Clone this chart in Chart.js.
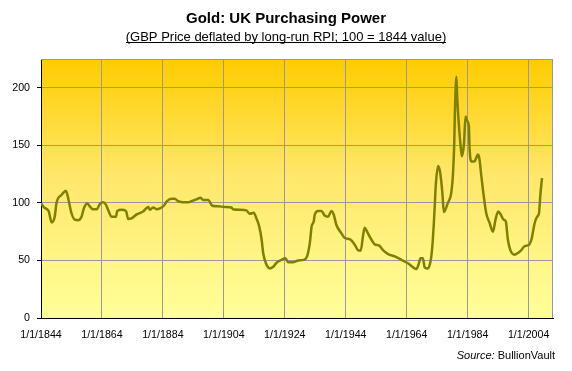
<!DOCTYPE html>
<html>
<head>
<meta charset="utf-8">
<script src="https://cdn.jsdelivr.net/npm/chart.js@4.4.1/dist/chart.umd.min.js"></script>
<style>
  body { margin: 0; background: #fff; }
</style>
</head>
<body>
<canvas id="chart" width="572" height="371"></canvas>
<script>
// values (year as decimal, index 100 = 1844)
const years = [
  1844.0, 1845.0, 1846.5, 1847.5, 1848.5, 1849.1, 1850.8, 1852.2, 1853.0, 1854.0,
  1855.1, 1856.2, 1857.3, 1858.1, 1859.2, 1860.0, 1861.0, 1862.3, 1863.3, 1864.4,
  1865.3, 1866.0, 1867.2, 1868.6, 1869.0, 1870.5, 1871.9, 1872.6, 1873.7, 1875.4,
  1877.5, 1879.2, 1879.7, 1880.8, 1881.9, 1883.2, 1884.3, 1885.2, 1886.8, 1887.9,
  1889.0, 1890.7, 1892.3, 1893.4, 1895.0, 1896.4, 1897.2, 1898.9, 1900.2, 1902.1,
  1904.3, 1906.5, 1907.0, 1909.2, 1911.4, 1912.5, 1913.8, 1914.7, 1915.6, 1916.4,
  1916.9, 1917.8, 1919.1, 1920.2, 1921.3, 1922.9, 1924.2, 1925.1, 1926.7, 1928.4,
  1930.2, 1931.3, 1932.2, 1932.8, 1933.5, 1933.8, 1934.9, 1936.0, 1937.1, 1938.2,
  1939.3, 1940.1, 1940.9, 1942.6, 1943.7, 1945.3, 1947.0, 1948.0, 1948.9, 1949.7,
  1950.2, 1951.0, 1952.1, 1953.5, 1954.9, 1956.2, 1957.9, 1960.1, 1962.3, 1964.4,
  1966.1, 1967.2, 1968.0, 1968.5, 1969.3, 1969.9, 1970.9, 1971.8, 1972.4, 1972.9,
  1973.3, 1973.5, 1974.3, 1975.0, 1975.7, 1976.2, 1977.5, 1978.6, 1979.2, 1979.6,
  1979.8, 1980.3, 1980.6, 1981.0, 1981.6, 1982.1, 1982.8, 1983.3, 1983.9, 1984.4,
  1984.6, 1985.2, 1986.2, 1987.4, 1987.9, 1988.5, 1989.3, 1990.1, 1991.2, 1992.3,
  1993.1, 1994.0, 1994.7, 1995.8, 1996.5, 1997.2, 1998.0, 1999.4, 2000.5, 2001.6,
  2002.7, 2004.1, 2004.9, 2006.0, 2006.8, 2007.4, 2007.9, 2008.4
];
const purchasingPower = [
  100, 96, 93, 83, 88, 100, 107, 110.5, 103, 91,
  85.5, 85, 88, 95.5, 99.5, 97, 94.5, 94.5, 99, 100.5,
  98.5, 94, 88, 88, 93, 94, 93, 86, 86.5, 90,
  92.5, 96.5, 94, 96, 94.5, 95.5, 97.5, 101, 103.5, 103.5,
  101.5, 100.5, 100.5, 101.5, 103, 104.5, 102.5, 102.5, 97.5, 97,
  96.5, 96, 94.5, 94, 93.5, 90.5, 91.5, 86.5, 79.5, 68,
  56.5, 47.5, 43, 44.5, 48, 50.5, 52, 48.5, 48.5, 50,
  50.5, 53.5, 65, 79.5, 84, 89.5, 93, 93, 89, 88,
  93, 89.5, 81, 73.5, 69.5, 68.5, 63.5, 59, 58.5, 72,
  78.5, 75, 69.5, 64, 63, 59, 55.5, 53.5, 50.5, 47.5,
  44, 42.5, 47.5, 52, 52, 44, 43, 49, 62, 82.5,
  103, 114, 132, 126, 108.5, 92, 100, 108.5, 126, 152,
  178, 209.5, 190, 172, 152, 140.5, 152, 175, 171, 166.5,
  149, 136, 136, 142, 137.5, 123, 105.5, 91, 82.5, 75,
  85, 92.5, 90.5, 85.5, 84, 68, 59, 55, 56.5, 59,
  62.5, 63.5, 68, 82.5, 88, 91, 108.5, 121.5
];
const xTickYears = [1844, 1864, 1884, 1904, 1924, 1944, 1964, 1984, 2004];
const yTickValues = [0, 50, 100, 150, 200];

const titleText = 'Gold: UK Purchasing Power';
const subtitleText = '(GBP Price deflated by long-run RPI; 100 = 1844 value)';
const FONT = '"Liberation Sans", Arial, sans-serif';

const plotDecor = {
  id: 'plotDecor',
  beforeDraw(chart) {
    const { ctx, chartArea: a } = chart;
    const g = ctx.createLinearGradient(0, a.top, 0, a.bottom);
    g.addColorStop(0, '#ffcc00');
    g.addColorStop(0.45, '#ffe76a');
    g.addColorStop(1, '#ffff99');
    ctx.save();
    ctx.fillStyle = g;
    ctx.fillRect(a.left, a.top, a.right - a.left, a.bottom - a.top);
    ctx.restore();
  },
  beforeDatasetsDraw(chart) {
    const { ctx, chartArea: a } = chart;
    ctx.save();
    ctx.strokeStyle = '#999999';
    ctx.lineWidth = 1;
    ctx.beginPath();
    ctx.moveTo(a.left, Math.round(a.top) + 0.5);
    ctx.lineTo(a.right, Math.round(a.top) + 0.5);
    ctx.moveTo(Math.round(a.right) - 0.5, a.top);
    ctx.lineTo(Math.round(a.right) - 0.5, a.bottom);
    ctx.stroke();
    ctx.restore();
  },
  afterDraw(chart) {
    const ctx = chart.ctx;
    const cx = 286;
    ctx.save();
    ctx.fillStyle = '#000';
    ctx.textAlign = 'center';
    ctx.textBaseline = 'alphabetic';
    ctx.font = 'bold 15px ' + FONT;
    ctx.fillText(titleText, cx, 23);
    ctx.font = '13px ' + FONT;
    ctx.fillText(subtitleText, cx, 41);
    const w = ctx.measureText(subtitleText).width;
    ctx.fillRect(Math.round(cx - w / 2), 42, Math.round(w), 1);
    // source note, right aligned
    ctx.textAlign = 'left';
    ctx.font = '11px ' + FONT;
    const srcName = 'BullionVault';
    const nameW = ctx.measureText(srcName).width;
    ctx.font = 'italic 11px ' + FONT;
    const lblW = ctx.measureText('Source: ').width;
    const x0 = 555 - nameW - lblW;
    ctx.fillText('Source:', x0, 359);
    ctx.font = '11px ' + FONT;
    ctx.fillText(srcName, x0 + lblW, 359);
    ctx.restore();
  }
};

new Chart(document.getElementById('chart'), {
  type: 'line',
  data: {
    datasets: [{
      data: years.map((yr, i) => ({ x: yr, y: purchasingPower[i] })),
      borderColor: '#808000',
      borderWidth: 2.5,
      pointRadius: 0,
      cubicInterpolationMode: 'monotone',
      fill: false
    }]
  },
  options: {
    responsive: false,
    animation: false,
    layout: { padding: { left: 0, top: 59, right: 19, bottom: 0 } },
    plugins: { legend: { display: false }, title: { display: false }, tooltip: { enabled: false } },
    scales: {
      x: {
        type: 'linear',
        min: 1844,
        max: 2012,
        afterBuildTicks: scale => { scale.ticks = xTickYears.map(v => ({ value: v })); },
        afterFit: scale => { scale.height = 53; },
        grid: { color: '#999999', lineWidth: 1, drawTicks: false },
        border: { color: '#000', width: 1 },
        ticks: {
          padding: 11,
          color: '#000',
          maxRotation: 0,
          autoSkip: false,
          font: { family: FONT, size: 10.67 },
          callback: v => '1/1/' + v
        }
      },
      y: {
        min: 0,
        max: 225,
        afterBuildTicks: scale => { scale.ticks = yTickValues.map(v => ({ value: v })); },
        afterFit: scale => { scale.width = 41; },
        grid: { color: '#999999', lineWidth: 1, tickLength: 4, tickColor: '#000' },
        border: { color: '#000', width: 1 },
        ticks: {
          padding: 7,
          color: '#000',
          font: { family: FONT, size: 10.67 }
        }
      }
    }
  },
  plugins: [plotDecor]
});
</script>
</body>
</html>
